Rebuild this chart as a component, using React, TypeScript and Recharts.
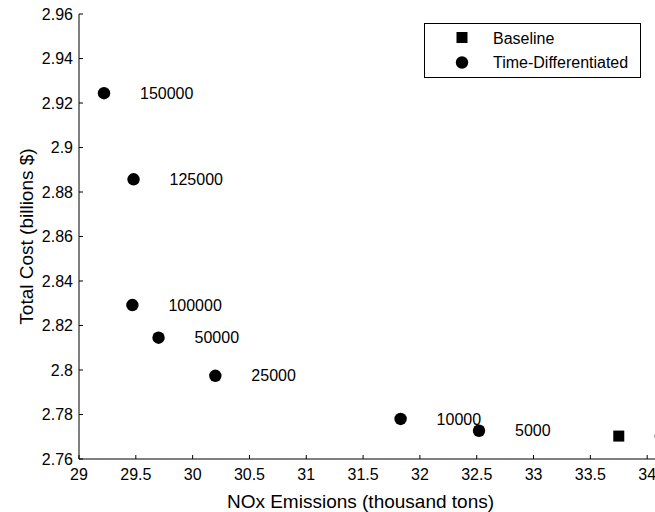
import { ScatterChart, Scatter, XAxis, YAxis, Legend, Label } from 'recharts';

const baselineX = [33.75];
const baselineY = [2.7703];

const tdX = [29.22, 29.48, 29.47, 29.7, 30.2, 31.83, 32.52, 34.12];
const tdY = [2.9244, 2.8857, 2.8292, 2.8145, 2.7974, 2.778, 2.7727, 2.7703];
// last point's label falls outside the cropped figure
const tdLabels = ['150000', '125000', '100000', '50000', '25000', '10000', '5000', ''];

const xTicks = [29, 29.5, 30, 30.5, 31, 31.5, 32, 32.5, 33, 33.5, 34];
const yTicks = [2.76, 2.78, 2.8, 2.82, 2.84, 2.86, 2.88, 2.9, 2.92, 2.94, 2.96];

const baseline = baselineX.map((x, i) => ({ x, y: baselineY[i] }));
const timeDiff = tdX.map((x, i) => ({ x, y: tdY[i], label: tdLabels[i] }));

const FONT = '"Liberation Sans", Arial, sans-serif';

const Square = (props: any) => {
  const { cx, cy } = props;
  return <rect x={cx - 5.5} y={cy - 5.5} width={11} height={11} fill="#000" />;
};

// dot plus its text label to the right
const LabeledDot = (props: any) => {
  const { cx, cy, payload } = props;
  return (
    <g>
      <circle cx={cx} cy={cy} r={6.2} fill="#000" />
      {payload.label ? (
        <text x={cx + 36} y={cy} dy="0.35em" fontSize={16} fill="#000" fontFamily={FONT}>
          {payload.label}
        </text>
      ) : null}
    </g>
  );
};

const renderLegend = () => (
  <div
    style={{
      position: 'relative',
      width: 215,
      height: 53,
      border: '1px solid #000',
      background: '#fff',
      fontFamily: FONT,
      fontSize: 16,
      color: '#000',
    }}
  >
    <svg width={20} height={53} style={{ position: 'absolute', left: 27, top: 0 }}>
      <rect x={4.5} y={8} width={11} height={11} fill="#000" />
      <circle cx={10} cy={38.5} r={6.2} fill="#000" />
    </svg>
    <span style={{ position: 'absolute', left: 68, top: 6, whiteSpace: 'nowrap' }}>Baseline</span>
    <span style={{ position: 'absolute', left: 68, top: 30, whiteSpace: 'nowrap' }}>Time-Differentiated</span>
  </div>
);

export default function App() {
  return (
    <div
      style={{
        position: 'absolute',
        left: 0,
        top: 0,
        width: 655,
        height: 512,
        overflow: 'hidden',
        background: '#fff',
        fontFamily: FONT,
      }}
    >
      <ScatterChart width={710} height={512} margin={{ top: 14, right: 6, bottom: 0, left: 0 }}>
        <XAxis
          type="number"
          dataKey="x"
          domain={[29, 34.5]}
          ticks={xTicks}
          allowDataOverflow
          height={53}
          stroke="#000"
          tickSize={-4}
          tickMargin={14}
          tick={{ fill: '#000', fontSize: 16, fontFamily: FONT }}
        >
          <Label
            value="NOx Emissions (thousand tons)"
            position="insideBottom"
            offset={4}
            dx={-31}
            style={{ fill: '#000', fontSize: 19, fontFamily: FONT }}
          />
        </XAxis>
        <YAxis
          type="number"
          dataKey="y"
          domain={[2.76, 2.96]}
          ticks={yTicks}
          allowDataOverflow
          width={79}
          stroke="#000"
          tickSize={-4}
          tickMargin={10}
          tick={{ fill: '#000', fontSize: 16, fontFamily: FONT }}
        >
          <Label
            value="Total Cost (billions $)"
            angle={-90}
            position="insideLeft"
            offset={26}
            style={{ fill: '#000', fontSize: 19, fontFamily: FONT, textAnchor: 'middle' }}
          />
        </YAxis>
        <Legend
          layout="horizontal"
          verticalAlign="middle"
          align="center"
          wrapperStyle={{ top: 23, left: 424, width: 217, height: 55 }}
          content={renderLegend}
        />
        <Scatter name="Baseline" data={baseline} shape={Square} isAnimationActive={false} />
        <Scatter name="Time-Differentiated" data={timeDiff} shape={LabeledDot} isAnimationActive={false} />
      </ScatterChart>
    </div>
  );
}
